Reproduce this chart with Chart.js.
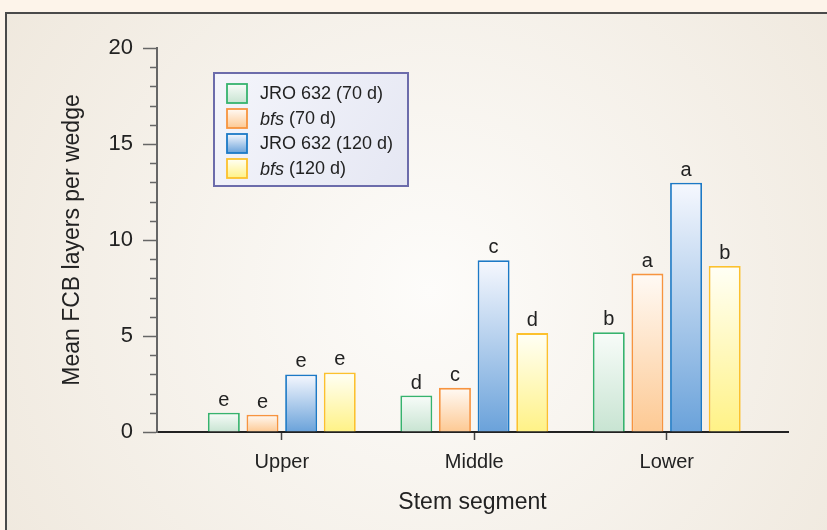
<!DOCTYPE html>
<html>
<head>
<meta charset="utf-8">
<title>Mean FCB layers per wedge</title>
<script src="https://cdn.jsdelivr.net/npm/chart.js@4.4.1/dist/chart.umd.min.js"></script>
<style>
  html, body { margin: 0; padding: 0; background: #fdf4ea; }
  #wrap { width: 827px; height: 530px; }
</style>
</head>
<body>
<div id="wrap"><canvas id="fcb-chart" width="827" height="530"></canvas></div>
<script>
// Stem segments along the x axis
const segments = ['Upper', 'Middle', 'Lower'];

// Mean FCB layers per wedge
const jro70 = [1.0, 1.9, 5.2];
const bfs70 = [0.9, 2.3, 8.25];
const jro120 = [3.0, 8.95, 12.98];
const bfs120 = [3.1, 5.15, 8.65];

// Significance letters printed above each bar
const jro70Letters = ['e', 'd', 'b'];
const bfs70Letters = ['e', 'c', 'a'];
const jro120Letters = ['e', 'c', 'a'];
const bfs120Letters = ['e', 'd', 'b'];

const yTicks = [0, 5, 10, 15, 20];

const FONT = '"Liberation Sans", Arial, Helvetica, sans-serif';
Chart.defaults.font.family = FONT;
Chart.defaults.color = '#222';

// one entry per series: values, letters, legend text, colours
const series = [
    { values: jro70, letters: jro70Letters, legend: [{ text: 'JRO 632 (70 d)' }],
      border: '#36b36e', top: '#f8fcf9', bottom: '#c8e4d2' },
    { values: bfs70, letters: bfs70Letters, legend: [{ text: 'bfs', italic: true }, { text: ' (70 d)' }],
      border: '#f7943f', top: '#fffaf5', bottom: '#fdc993' },
    { values: jro120, letters: jro120Letters, legend: [{ text: 'JRO 632 (120 d)' }],
      border: '#1c79c6', top: '#f6f8fe', bottom: '#6aa2da' },
    { values: bfs120, letters: bfs120Letters, legend: [{ text: 'bfs', italic: true }, { text: ' (120 d)' }],
      border: '#fcc12d', top: '#fffff6', bottom: '#fff286' }
];

// vertical gradient from the bar top down to zero
function barFill(s) {
    return function(context) {
        if (context.type !== 'data') return s.bottom;
        const chart = context.chart;
        const y = chart.scales.y;
        if (!y || !context.parsed) return s.bottom;
        const yTop = y.getPixelForValue(context.parsed.y);
        const yBase = y.getPixelForValue(0);
        if (!isFinite(yTop) || !isFinite(yBase)) return s.bottom;
        const g = chart.ctx.createLinearGradient(0, yTop, 0, yBase);
        g.addColorStop(0, s.top);
        g.addColorStop(1, s.bottom);
        return g;
    };
}

// page + framed panel with a soft radial glow
const panelBackground = {
    id: 'panelBackground',
    beforeDraw(chart) {
        const { ctx, width, height } = chart;
        ctx.save();
        ctx.fillStyle = '#fdf4ea';
        ctx.fillRect(0, 0, width, height);
        const g = ctx.createRadialGradient(430, 290, 0, 430, 290, 520);
        g.addColorStop(0, '#fdfcfa');
        g.addColorStop(1, '#efe8dd');
        ctx.fillStyle = g;
        ctx.fillRect(6, 13, width, height);
        ctx.strokeStyle = '#4a4a4a';
        ctx.lineWidth = 2;
        ctx.strokeRect(6, 13, width + 10, height + 10);
        ctx.restore();
    }
};

// unlabelled minor ticks every 1 unit on the y axis
const minorTicks = {
    id: 'minorTicks',
    afterDraw(chart) {
        const { ctx, chartArea } = chart;
        const y = chart.scales.y;
        ctx.save();
        ctx.strokeStyle = '#666';
        ctx.lineWidth = 1.5;
        for (let v = y.min; v <= y.max; v++) {
            if (yTicks.includes(v)) continue;
            const py = Math.round(y.getPixelForValue(v)) + 0.5;
            ctx.beginPath();
            ctx.moveTo(chartArea.left - 7, py);
            ctx.lineTo(chartArea.left, py);
            ctx.stroke();
        }
        ctx.restore();
    }
};

// letters over bars
const barLetters = {
    id: 'barLetters',
    afterDatasetsDraw(chart) {
        const ctx = chart.ctx;
        ctx.save();
        ctx.font = '20px ' + FONT;
        ctx.fillStyle = '#222';
        ctx.textAlign = 'center';
        ctx.textBaseline = 'alphabetic';
        series.forEach((s, di) => {
            chart.getDatasetMeta(di).data.forEach((bar, i) => {
                ctx.fillText(s.letters[i], bar.x, bar.y - 7);
            });
        });
        ctx.restore();
    }
};

// framed legend with italic "bfs"
const framedLegend = {
    id: 'framedLegend',
    afterDraw(chart) {
        const { ctx, chartArea } = chart;
        const x = chartArea.left + 57, y = chartArea.top + 25, w = 194, h = 113;
        ctx.save();
        const bg = ctx.createLinearGradient(x, y, x + w, y + h);
        bg.addColorStop(0, '#f4f5fb');
        bg.addColorStop(1, '#e5e7f3');
        ctx.fillStyle = bg;
        ctx.fillRect(x, y, w, h);
        ctx.strokeStyle = '#6c6cab';
        ctx.lineWidth = 2;
        ctx.strokeRect(x, y, w, h);

        series.forEach((s, i) => {
            const cy = y + 20.5 + i * 25;
            const sx = x + 13, sy = cy - 9.5;
            const g = ctx.createLinearGradient(0, sy, 0, sy + 19);
            g.addColorStop(0, s.top);
            g.addColorStop(1, s.bottom);
            ctx.fillStyle = g;
            ctx.fillRect(sx, sy, 20, 19);
            ctx.strokeStyle = s.border;
            ctx.lineWidth = 1.8;
            ctx.strokeRect(sx, sy, 20, 19);

            let tx = x + 46;
            ctx.fillStyle = '#222';
            ctx.textBaseline = 'middle';
            ctx.textAlign = 'left';
            s.legend.forEach(part => {
                ctx.font = (part.italic ? 'italic ' : '') + '18px ' + FONT;
                ctx.fillText(part.text, tx, cy + 1);
                tx += ctx.measureText(part.text).width;
            });
        });
        ctx.restore();
    }
};

const ctx = document.getElementById('fcb-chart').getContext('2d');

new Chart(ctx, {
    type: 'bar',
    data: {
        datasets: series.map(s => ({
            data: segments.map((seg, i) => ({ x: i, y: s.values[i] })),
            backgroundColor: barFill(s),
            borderColor: s.border,
            borderWidth: 1.8,
            borderSkipped: 'start',
            categoryPercentage: 0.803,
            barPercentage: 0.827
        }))
    },
    options: {
        responsive: false,
        animation: false,
        layout: { padding: { left: 50, right: 39, top: 48, bottom: 0 } },
        plugins: {
            legend: { display: false },
            tooltip: { enabled: false }
        },
        scales: {
            x: {
                type: 'linear',
                min: -0.6485,
                max: 2.63,
                offset: false,
                z: 1,
                afterBuildTicks: axis => { axis.ticks = segments.map((s, i) => ({ value: i })); },
                afterFit: axis => { axis.height = 98; },
                grid: {
                    offset: false,
                    drawOnChartArea: false,
                    drawTicks: true,
                    tickLength: 8,
                    color: '#444',
                    tickColor: '#444',
                    tickWidth: 1.5
                },
                border: { color: '#222', width: 2 },
                ticks: {
                    callback: v => segments[v],
                    font: { size: 20 },
                    color: '#222',
                    padding: 10,
                    maxRotation: 0,
                    autoSkip: false
                },
                title: {
                    display: true,
                    text: 'Stem segment',
                    font: { size: 23 },
                    color: '#222',
                    padding: { top: 0, bottom: 14 }
                }
            },
            y: {
                min: 0,
                max: 20,
                afterBuildTicks: axis => { axis.ticks = yTicks.map(v => ({ value: v })); },
                afterFit: axis => { axis.width = 107; },
                grid: {
                    drawOnChartArea: false,
                    drawTicks: true,
                    tickLength: 14,
                    color: '#666',
                    tickColor: '#666',
                    tickWidth: 1.5
                },
                border: { color: '#666', width: 2 },
                ticks: {
                    font: { size: 22 },
                    color: '#222',
                    padding: 10
                },
                title: {
                    display: true,
                    text: 'Mean FCB layers per wedge',
                    font: { size: 23 },
                    color: '#222',
                    padding: { top: 9, bottom: 0 }
                }
            }
        }
    },
    plugins: [panelBackground, minorTicks, barLetters, framedLegend]
});
</script>
</body>
</html>
